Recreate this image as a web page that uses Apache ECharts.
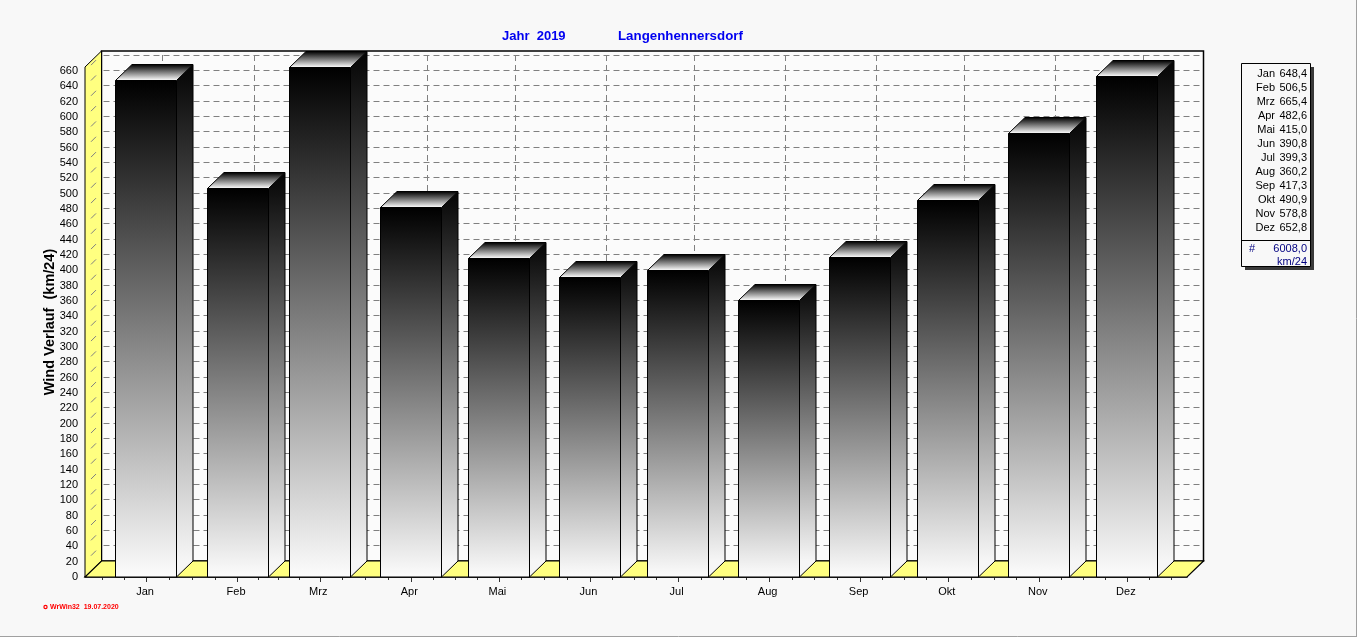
<!DOCTYPE html>
<html>
<head>
<meta charset="utf-8">
<style>html,body{margin:0;padding:0;background:#f8f8f8}#c{width:1357px;height:637px}</style>
<script src="https://cdn.jsdelivr.net/npm/echarts@6/dist/echarts.min.js"></script>
</head>
<body>
<div id="c"></div>
<script>
const months = ['Jan','Feb','Mrz','Apr','Mai','Jun','Jul','Aug','Sep','Okt','Nov','Dez'];
const monthDays = [0,31,59,90,120,151,181,212,243,273,304,334];
const values = [648.4,506.5,665.4,482.6,415.0,390.8,399.3,360.2,417.3,490.9,578.8,652.8];
const yTicks = [0,20,40,60,80,100,120,140,160,180,200,220,240,260,280,300,320,340,360,380,400,420,440,460,480,500,520,540,560,580,600,620,640,660];
const totalLabel = '6008,0';
const unitLabel = 'km/24';
const titleYear = 'Jahr  2019';
const titlePlace = 'Langenhennersdorf';
const yName = 'Wind Verlauf  (km/24)';
const footer = 'WrWin32  19.07.2020';

const X_MIN = -20.94, X_MAX = 354.3, Y_MAX = 665.4;
const DX = 16.5, DY = 16, BAR_W = 61;
const YELLOW = '#ffff80', FONT = '"Liberation Sans", Arial, sans-serif';
const snap = v => Math.floor(v) + 0.5;

const minorDays = [];
[-15,-7.5].forEach(d => minorDays.push(d));
monthDays.forEach((d,i) => {
  const next = i < monthDays.length-1 ? monthDays[i+1] : d+30;
  const step = (next-d)/4;
  const n = i < monthDays.length-1 ? 4 : 3;
  for (let k=0;k<n;k++) minorDays.push(d+k*step);
});

const poly = (points, fill, stroke, lw) => ({
  type:'polygon', shape:{points},
  style:{fill:fill||'transparent', stroke:stroke||null, lineWidth:lw||1}
});
const line = (a,b,stroke,lw,dash) => ({
  type:'line', shape:{x1:a[0],y1:a[1],x2:b[0],y2:b[1]},
  style:{stroke, lineWidth:lw||1, lineDash:dash||null, fill:null}
});
const vGrad = (y1,y2,c1,c2) => ({type:'linear',x:0,y:y1,x2:0,y2:y2,global:true,
  colorStops:[{offset:0,color:c1},{offset:1,color:c2}]});

function renderWalls(params, api){
  const p00 = api.coord([X_MIN,0]), p10 = api.coord([X_MAX,0]), p01 = api.coord([X_MIN,Y_MAX]);
  const bl=[p00[0]+DX,p00[1]-DY], br=[p10[0]+DX,p10[1]-DY], tl=[p01[0]+DX,p01[1]-DY], tr=[br[0],tl[1]];
  return {type:'group',children:[
    poly([tl,tr,br,bl],'#fbfbfb','#000',1.5),
    poly([p00,p01,tl,bl],YELLOW,'#000',1)
  ]};
}
function renderFloor(params, api){
  const p00 = api.coord([X_MIN,0]), p10 = api.coord([X_MAX,0]);
  const bl=[p00[0]+DX,p00[1]-DY], br=[p10[0]+DX,p10[1]-DY];
  return poly([p00,p10,br,bl],YELLOW,'#000',1.2);
}
function renderHGrid(params, api){
  const v = api.value(0), a = api.coord([X_MIN,v]), c = api.coord([X_MAX,v]);
  const b=[a[0]+DX,a[1]-DY], d=[c[0]+DX,c[1]-DY];
  const yy = snap(b[1]);
  return {type:'group',children:[
    line([a[0]+6,a[1]-6],[a[0]+11,a[1]-11],'#808080',1),
    line([b[0]+2,yy],[d[0],yy],'#808080',1,[6,4])
  ]};
}
function renderVGrid(params, api){
  const d = api.value(0), a = api.coord([d,0]), b = api.coord([d,Y_MAX]);
  const xx = snap(a[0]+DX);
  return line([xx,a[1]-DY],[xx,b[1]-DY],'#808080',1,[6,4]);
}
function renderBar(params, api){
  const c = api.coord([api.value(0),api.value(1)]), o = api.coord([api.value(0),0]);
  const L=snap(c[0]-BAR_W/2), R=L+BAR_W, T=snap(c[1]), B=o[1];
  return {type:'group',children:[
    poly([[L,T],[R,T],[R,B],[L,B]], vGrad(T,B,'#000000','#fcfcfc'),'#000',1),
    poly([[R,T],[R+DX,T-DY],[R+DX,B-DY],[R,B]], vGrad(T-DY,B-DY,'#040404','#f6f6f6'),'#000',1),
    poly([[L,T],[L+DX,T-DY],[R+DX,T-DY],[R,T]], vGrad(T-DY,T,'#000000','#ffffff'),'#000',1)
  ]};
}

const graphics = [];
const LX=1242, LR=1311, LT=64, LB=267;
graphics.push({type:'rect',shape:{x:LX+3,y:LT+3,width:LR-LX,height:LB-LT},style:{fill:'#3a3a3a'},z:10});
graphics.push({type:'rect',shape:{x:LX-0.5,y:LT-0.5,width:LR-LX,height:LB-LT},style:{fill:'#f8f8f8',stroke:'#000',lineWidth:1},z:11});
graphics.push({type:'line',shape:{x1:LX,y1:240.5,x2:LR-1,y2:240.5},style:{stroke:'#000',lineWidth:1},z:11});
const legendText=(text,x,y,align,fill)=>({type:'text',x,y,z:12,style:{text,fill:fill||'#000',font:'11px '+FONT,textAlign:align,textVerticalAlign:'middle'}});
months.forEach((m,i)=>{
  const y=74+i*14;
  graphics.push(legendText(m,1275,y,'right'));
  graphics.push(legendText(values[i].toFixed(1).replace('.',','),1307,y,'right'));
});
graphics.push(legendText('#',1252,249,'center','#000080'));
graphics.push(legendText(totalLabel,1307,249,'right','#000080'));
graphics.push(legendText(unitLabel,1307,262,'right','#000080'));
graphics.push({type:'circle',shape:{cx:45.5,cy:607,r:1.6},style:{fill:'#f8f8f8',stroke:'#ff0000',lineWidth:1.2},z:12});
graphics.push({type:'text',x:50,y:607.5,z:12,style:{text:footer,fill:'#ff0000',font:'bold 7px '+FONT,textVerticalAlign:'middle'}});
graphics.push({type:'line',shape:{x1:0,y1:636.5,x2:1357,y2:636.5},style:{stroke:'#a0a0a0',lineWidth:1},z:12});
graphics.push({type:'line',shape:{x1:1356.5,y1:0,x2:1356.5,y2:637},style:{stroke:'#a0a0a0',lineWidth:1},z:12});

const chart = echarts.init(document.getElementById('c'),null,{renderer:'canvas'});
const customBase = {type:'custom',clip:false,silent:true,animation:false,xAxisIndex:0,yAxisIndex:0};
chart.setOption({
  animation:false,
  backgroundColor:'#f8f8f8',
  title:[
    {text:titleYear,left:497,top:25,textStyle:{color:'#0000f0',fontFamily:FONT,fontWeight:'bold',fontSize:13}},
    {text:titlePlace,left:613,top:25,textStyle:{color:'#0000f0',fontFamily:FONT,fontWeight:'bold',fontSize:13.3}}
  ],
  grid:{left:85,top:67,width:1102,height:510,containLabel:false},
  xAxis:[
    {type:'value',min:X_MIN,max:X_MAX,position:'bottom',splitLine:{show:false},
     axisLine:{show:true,lineStyle:{color:'#000',width:1.5}},
     axisTick:{show:true,customValues:minorDays,length:3,lineStyle:{color:'#333'}},
     axisLabel:{show:false}},
    {type:'value',min:X_MIN,max:X_MAX,position:'bottom',splitLine:{show:false},
     axisLine:{show:false},
     axisTick:{show:true,customValues:monthDays,length:5,lineStyle:{color:'#333'}},
     axisLabel:{show:true,customValues:monthDays,margin:9,color:'#000',fontFamily:FONT,fontSize:11,padding:[0,3,0,0],
       formatter:v=>months[monthDays.indexOf(v)]||''}}
  ],
  yAxis:{type:'value',min:0,max:Y_MAX,interval:20,splitLine:{show:false},
    name:yName,nameLocation:'middle',nameGap:28,nameMoveOverlap:false,
    nameTextStyle:{color:'#000',fontFamily:FONT,fontWeight:'bold',fontSize:14.5},
    axisLine:{show:true,lineStyle:{color:'#000',width:2}},
    axisTick:{show:true,length:4,lineStyle:{color:'#333'}},
    minorTick:{show:true,splitNumber:5,length:2,lineStyle:{color:'#000'}},
    axisLabel:{showMaxLabel:false,margin:7,color:'#000',fontFamily:FONT,fontSize:11}
  },
  graphic:graphics,
  series:[
    Object.assign({},customBase,{z:2,data:[[0]],renderItem:renderWalls}),
    Object.assign({},customBase,{z:3,data:yTicks.filter(v=>v>0).map(v=>[v]),encode:{y:0},renderItem:renderHGrid}),
    Object.assign({},customBase,{z:3,data:monthDays.map(d=>[d]),encode:{x:0},renderItem:renderVGrid}),
    Object.assign({},customBase,{z:4,data:[[0]],renderItem:renderFloor}),
    Object.assign({},customBase,{z:5,data:monthDays.map((d,i)=>[d,values[i]]),encode:{x:0,y:1},renderItem:renderBar})
  ]
});
</script>
</body>
</html>
